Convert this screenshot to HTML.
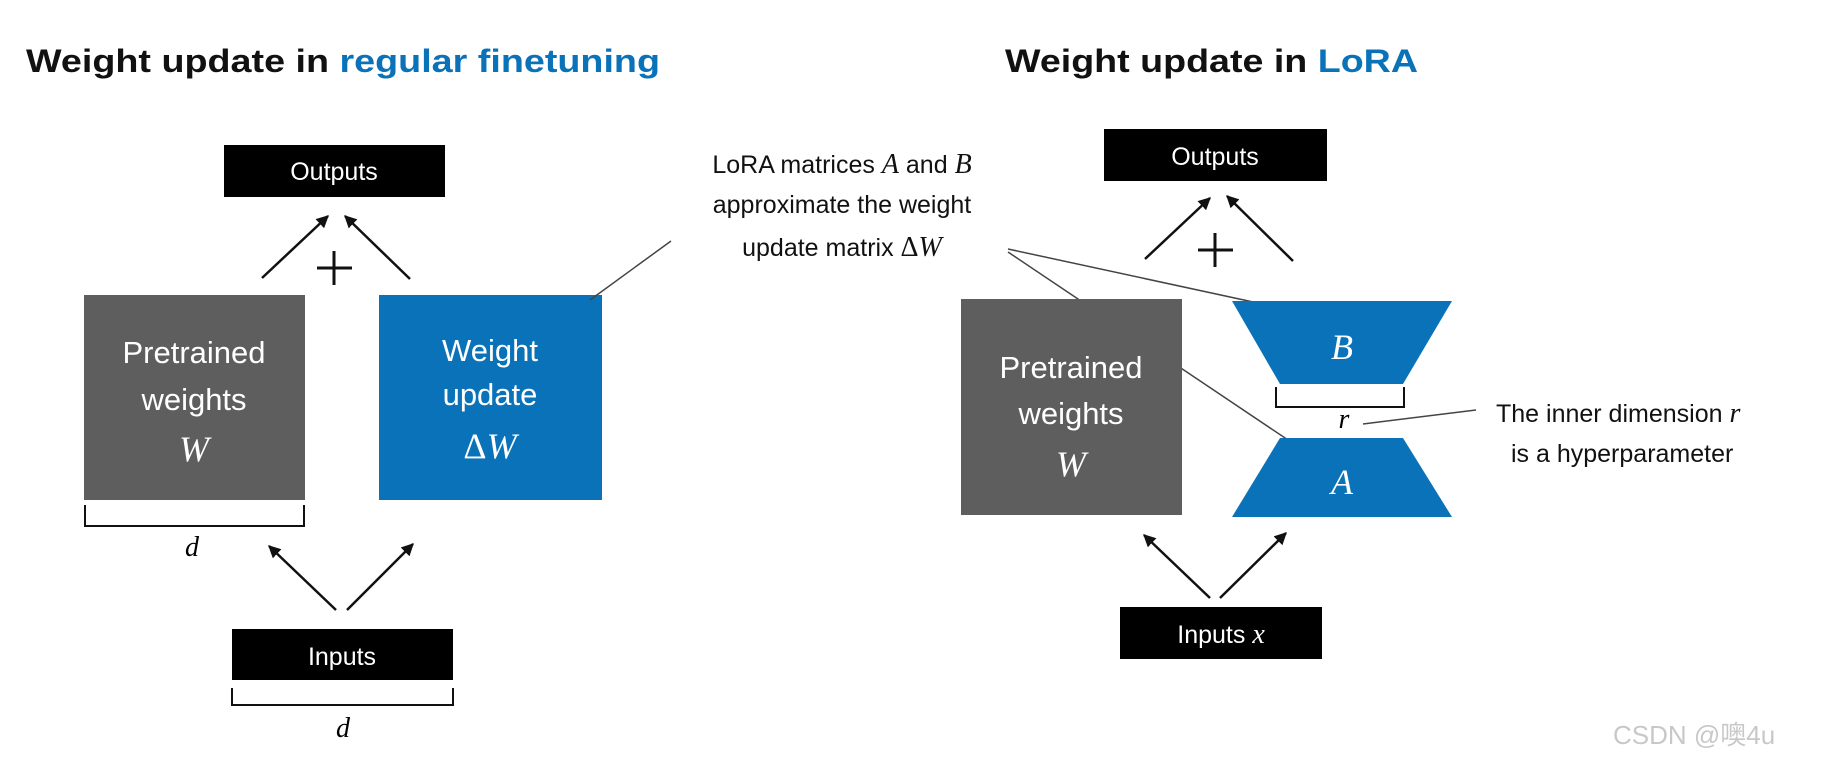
<!DOCTYPE html>
<html><head><meta charset="utf-8"><style>html,body{margin:0;padding:0;background:#fff}svg{display:block}</style></head><body>
<svg width="1824" height="767" viewBox="0 0 1824 767" xmlns="http://www.w3.org/2000/svg">
<defs><marker id="ah" viewBox="0 0 10 10" refX="9" refY="5" markerWidth="5" markerHeight="5" orient="auto"><path d="M0,0 L10,5 L0,10 z" fill="#111"/></marker></defs>
<g font-family="Liberation Sans, sans-serif">
<text x="26" y="72" font-size="32" font-weight="bold" textLength="634" lengthAdjust="spacingAndGlyphs" fill="#111">Weight update in <tspan fill="#0a72b8">regular finetuning</tspan></text>
<text x="1005" y="72" font-size="32" font-weight="bold" textLength="413" lengthAdjust="spacingAndGlyphs" fill="#111">Weight update in <tspan fill="#0a72b8">LoRA</tspan></text>

<!-- left -->
<rect x="224" y="145" width="221" height="52" fill="#000"/>
<text x="334" y="180" font-size="25" fill="#fff" text-anchor="middle">Outputs</text>
<g stroke="#111" stroke-width="2.5" fill="none" marker-end="url(#ah)">
<line x1="262" y1="278" x2="328" y2="216"/><line x1="410" y1="279" x2="345" y2="216"/>
<line x1="336" y1="610" x2="269" y2="546"/><line x1="347" y1="610" x2="413" y2="544"/>
<line x1="1145" y1="259" x2="1210" y2="198"/><line x1="1293" y1="261" x2="1227" y2="196"/>
<line x1="1210" y1="598" x2="1144" y2="535"/><line x1="1220" y1="598" x2="1286" y2="533"/>
</g>
<g stroke="#111" stroke-width="3"><line x1="317" y1="268" x2="352" y2="268"/><line x1="334" y1="251" x2="334" y2="285"/>
<line x1="1198" y1="250" x2="1233" y2="250"/><line x1="1215" y1="233" x2="1215" y2="267"/></g>
<rect x="84" y="295" width="221" height="205" fill="#5e5e5e"/>
<text x="194" y="363" font-size="31" fill="#fff" text-anchor="middle">Pretrained</text>
<text x="194" y="410" font-size="31" fill="#fff" text-anchor="middle">weights</text>
<text x="194" y="461" font-size="36" fill="#fff" text-anchor="middle" font-style="italic" font-family="Liberation Serif, serif">W</text>
<rect x="379" y="295" width="223" height="205" fill="#0a72b8"/>
<text x="490" y="361" font-size="31" fill="#fff" text-anchor="middle">Weight</text>
<text x="490" y="405" font-size="31" fill="#fff" text-anchor="middle">update</text>
<text x="490" y="458" font-size="36" fill="#fff" text-anchor="middle" font-family="Liberation Serif, serif">Δ<tspan font-style="italic">W</tspan></text>
<path d="M85,505 V526 H304 V505" stroke="#111" stroke-width="2" fill="none"/>
<text x="192" y="556" font-size="28" font-style="italic" font-family="Liberation Serif, serif" text-anchor="middle">d</text>
<rect x="232" y="629" width="221" height="51" fill="#000"/>
<text x="342" y="665" font-size="25" fill="#fff" text-anchor="middle">Inputs</text>
<path d="M232,688 V705 H453 V688" stroke="#111" stroke-width="2" fill="none"/>
<text x="343" y="737" font-size="28" font-style="italic" font-family="Liberation Serif, serif" text-anchor="middle">d</text>

<!-- annotation -->
<text x="842" y="173" font-size="25" text-anchor="middle" fill="#111">LoRA matrices <tspan font-family="Liberation Serif, serif" font-style="italic" font-size="28">A</tspan> and <tspan font-family="Liberation Serif, serif" font-style="italic" font-size="28">B</tspan></text>
<text x="842" y="213" font-size="25" text-anchor="middle" fill="#111">approximate the weight</text>
<text x="842" y="256" font-size="25" text-anchor="middle" fill="#111">update matrix <tspan font-family="Liberation Serif, serif" font-size="28">Δ<tspan font-style="italic">W</tspan></tspan></text>
<g stroke="#444" stroke-width="1.5">
<line x1="671" y1="241" x2="590" y2="300"/>
<line x1="1008" y1="249" x2="1267" y2="305"/>
<line x1="1008" y1="252" x2="1300" y2="448"/>
<line x1="1363" y1="424" x2="1476" y2="410"/>
</g>

<!-- right -->
<rect x="1104" y="129" width="223" height="52" fill="#000"/>
<text x="1215" y="165" font-size="25" fill="#fff" text-anchor="middle">Outputs</text>
<rect x="961" y="299" width="221" height="216" fill="#5e5e5e"/>
<text x="1071" y="378" font-size="31" fill="#fff" text-anchor="middle">Pretrained</text>
<text x="1071" y="424" font-size="31" fill="#fff" text-anchor="middle">weights</text>
<text x="1071" y="476" font-size="36" fill="#fff" text-anchor="middle" font-style="italic" font-family="Liberation Serif, serif">W</text>
<polygon points="1232,301 1452,301 1403,384 1280,384" fill="#0a72b8"/>
<polygon points="1280,438 1403,438 1452,517 1232,517" fill="#0a72b8"/>
<text x="1342" y="359" font-size="36" fill="#fff" text-anchor="middle" font-style="italic" font-family="Liberation Serif, serif">B</text>
<text x="1342" y="494" font-size="36" fill="#fff" text-anchor="middle" font-style="italic" font-family="Liberation Serif, serif">A</text>
<path d="M1276,387 V407 H1404 V387" stroke="#111" stroke-width="2" fill="none"/>
<text x="1344" y="428" font-size="28" font-style="italic" font-family="Liberation Serif, serif" text-anchor="middle">r</text>
<text x="1496" y="422" font-size="25" fill="#111">The inner dimension <tspan font-family="Liberation Serif, serif" font-style="italic" font-size="28">r</tspan></text>
<text x="1511" y="462" font-size="25" fill="#111">is a hyperparameter</text>
<rect x="1120" y="607" width="202" height="52" fill="#000"/>
<text x="1221" y="643" font-size="25" fill="#fff" text-anchor="middle">Inputs <tspan font-family="Liberation Serif, serif" font-style="italic" font-size="28">x</tspan></text>

<text x="1613" y="744" font-size="26" fill="#c8c8c8" font-family="Liberation Sans, Noto Sans CJK SC, sans-serif">CSDN @噢4u</text>
</g>
</svg>
</body></html>
